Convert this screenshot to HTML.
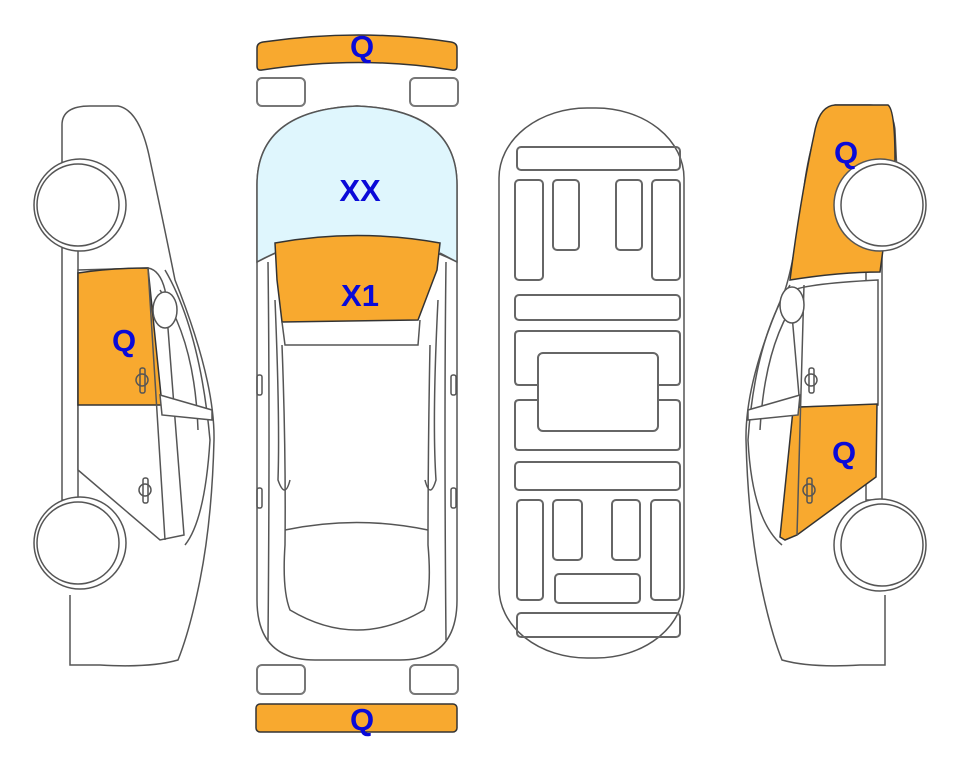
<!DOCTYPE html>
<html><head><meta charset="utf-8"><style>
html,body{margin:0;padding:0;background:#fff;width:963px;height:768px;overflow:hidden}
svg{display:block}
text{font-family:"Liberation Sans",Arial,sans-serif;font-weight:bold;fill:#0a0ad8;font-size:31px;text-anchor:middle}
</style></head><body>
<svg width="963" height="768" viewBox="0 0 963 768" xmlns="http://www.w3.org/2000/svg">
<g fill="none" stroke="#555" stroke-width="1.5">
<!-- LEFT SIDE CAR -->
<path d="M62,195 L62,125 Q62,106 90,106 L118,106 Q140,110 150,160 Q165,230 175,280 Q215,380 214,440 Q212,520 200,580 Q190,630 178,660 Q150,668 100,665 L70,665 L70,595" fill="#fff"/>
<path d="M62,245 L62,500 L78,500 L78,248 Z" fill="#fff"/>
<path d="M78,270 L78,470 L160,540 L184,535 L165,290 Q160,270 148,268 Z" fill="#fff"/>
<path d="M78,273 Q110,268 148,268 L162,405 L78,405 Z" fill="#f8a92f" stroke="#333"/>
<path d="M148,268 L165,540 M165,270 Q200,330 210,440 Q205,520 185,545 M160,290 Q195,340 198,430"/>
<path d="M160,395 L212,410 L212,420 L162,415 Z" fill="#fff"/>
<ellipse cx="165" cy="310" rx="12" ry="18" fill="#fff"/>
<rect x="140" y="368" width="5" height="25" rx="2"/><circle cx="142" cy="380" r="6"/>
<rect x="143" y="478" width="5" height="25" rx="2"/><circle cx="145" cy="490" r="6"/>
<circle cx="80" cy="205" r="46" fill="#fff"/><circle cx="78" cy="205" r="41" fill="#fff"/>
<circle cx="80" cy="543" r="46" fill="#fff"/><circle cx="78" cy="543" r="41" fill="#fff"/>

<!-- TOP VIEW -->
<path d="M257,48 Q257,43 263,42 Q360,28 451,42 Q457,43 457,48 L457,66 Q457,71 452,70 Q360,55 262,70 Q257,71 257,66 Z" fill="#f8a92f" stroke="#333"/>
<rect x="257" y="78" width="48" height="28" rx="5" fill="#fff" stroke="#777" stroke-width="2"/>
<rect x="410" y="78" width="48" height="28" rx="5" fill="#fff" stroke="#777" stroke-width="2"/>
<path d="M257,185 Q257,110 357,106 Q457,110 457,185 L457,600 Q457,660 400,660 L315,660 Q257,660 257,600 Z" fill="#fff"/>
<path d="M257,262 L257,185 Q257,110 357,106 Q457,110 457,185 L457,262 Q410,238 357,238 Q300,238 257,262 Z" fill="#dff6fd"/>
<path d="M275,243 Q357,228 440,243 L437,270 L418,320 L282,322 L277,280 Z" fill="#f8a92f" stroke="#333"/>
<path d="M257,262 L275,253 M457,262 L440,253 M282,322 L285,345 L418,345 L420,320"/>
<path d="M268,262 Q270,420 268,640 M446,262 Q444,420 446,640"/>
<path d="M282,345 Q286,450 285,545 Q282,590 290,610 Q357,650 424,610 Q432,590 428,545 Q428,450 430,345"/>
<path d="M285,530 Q357,515 428,530"/>
<path d="M275,300 Q280,420 278,480 Q285,500 290,480 M438,300 Q432,420 436,480 Q430,500 425,480"/>
<rect x="257" y="375" width="5" height="20" rx="2"/><rect x="451" y="375" width="5" height="20" rx="2"/>
<rect x="257" y="488" width="5" height="20" rx="2"/><rect x="451" y="488" width="5" height="20" rx="2"/>
<rect x="257" y="665" width="48" height="29" rx="5" fill="#fff" stroke="#777" stroke-width="2"/>
<rect x="410" y="665" width="48" height="29" rx="5" fill="#fff" stroke="#777" stroke-width="2"/>
<rect x="256" y="704" width="201" height="28" rx="4" fill="#f8a92f" stroke="#333"/>

<!-- UNDERBODY -->
<rect x="499" y="108" width="185" height="550" rx="88" ry="70" fill="#fff"/>
<g stroke="#666" stroke-width="2">
<rect x="517" y="147" width="163" height="23" rx="4"/>
<rect x="515" y="180" width="28" height="100" rx="4"/>
<rect x="553" y="180" width="26" height="70" rx="4"/>
<rect x="616" y="180" width="26" height="70" rx="4"/>
<rect x="652" y="180" width="28" height="100" rx="4"/>
<rect x="515" y="295" width="165" height="25" rx="4"/>
<path d="M538,385 L519,385 Q515,385 515,381 L515,335 Q515,331 519,331 L676,331 Q680,331 680,335 L680,381 Q680,385 676,385 L658,385"/>
<path d="M538,400 L519,400 Q515,400 515,404 L515,446 Q515,450 519,450 L676,450 Q680,450 680,446 L680,404 Q680,400 676,400 L658,400"/>
<rect x="538" y="353" width="120" height="78" rx="5"/>
<rect x="515" y="462" width="165" height="28" rx="4"/>
<rect x="517" y="500" width="26" height="100" rx="4"/>
<rect x="553" y="500" width="29" height="60" rx="4"/>
<rect x="612" y="500" width="28" height="60" rx="4"/>
<rect x="651" y="500" width="29" height="100" rx="4"/>
<rect x="555" y="574" width="85" height="29" rx="4"/>
<rect x="517" y="613" width="163" height="24" rx="4"/>
</g>

<!-- RIGHT SIDE CAR -->
<path d="M898,195 L895,130 Q893,106 870,105 L835,105 Q815,115 805,180 Q795,260 785,290 Q745,380 746,440 Q748,520 760,580 Q770,630 782,660 Q810,668 860,665 L885,665 L885,595" fill="#fff"/>
<path d="M882,245 L882,500 L866,500 L866,248 Z" fill="#fff"/>
<path d="M790,280 Q800,200 815,130 Q820,106 835,105 L888,105 Q895,110 895,160 L880,272 Q840,272 790,280 Z" fill="#f8a92f" stroke="#333"/>
<path d="M878,280 L878,405 L800,407 L790,292 Q800,284 878,280 Z" fill="#fff"/>
<path d="M800,407 L877,404 L876,477 L797,535 L785,540 L780,537 L793,410 Z" fill="#f8a92f" stroke="#333"/>
<path d="M804,285 L797,535 M790,285 Q755,340 748,440 Q752,520 782,545 M800,295 Q765,340 760,430"/>
<path d="M800,395 L748,410 L748,420 L798,415 Z" fill="#fff"/>
<ellipse cx="792" cy="305" rx="12" ry="18" fill="#fff"/>
<rect x="809" y="368" width="5" height="25" rx="2"/><circle cx="811" cy="380" r="6"/>
<rect x="807" y="478" width="5" height="25" rx="2"/><circle cx="809" cy="490" r="6"/>
<circle cx="880" cy="205" r="46" fill="#fff"/><circle cx="882" cy="205" r="41" fill="#fff"/>
<circle cx="880" cy="545" r="46" fill="#fff"/><circle cx="882" cy="545" r="41" fill="#fff"/>
</g>

<text x="362" y="57">Q</text>
<text x="360" y="201">XX</text>
<text x="360" y="306">X1</text>
<text x="362" y="730">Q</text>
<text x="124" y="351">Q</text>
<text x="846" y="163">Q</text>
<text x="844" y="463">Q</text>
</svg>
</body></html>
